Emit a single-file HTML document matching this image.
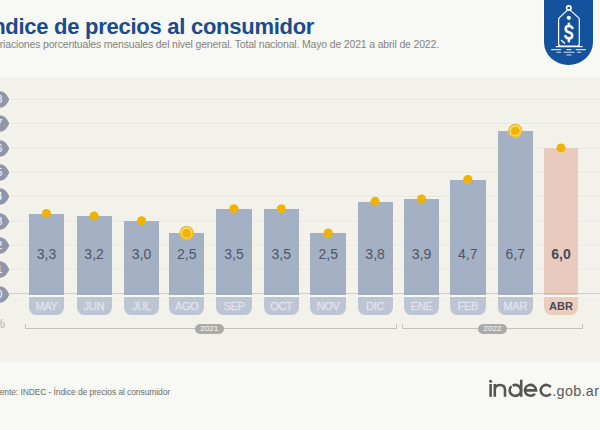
<!DOCTYPE html>
<html><head><meta charset="utf-8"><style>
*{margin:0;padding:0;box-sizing:border-box}
html,body{width:600px;height:430px;overflow:hidden}
body{position:relative;background:#f8f8f4;font-family:"Liberation Sans",sans-serif}
.a{position:absolute}
.band{left:0;top:77px;width:600px;height:285px;background:#f2f2eb}
.title{left:-13.7px;top:15.1px;font-size:22px;letter-spacing:-0.27px;font-weight:bold;color:#1a4b8c;white-space:nowrap;line-height:24px}
.sub{left:-12px;top:38.3px;font-size:10.5px;color:#848482;white-space:nowrap;letter-spacing:-0.17px;line-height:12px}
.grid{left:10px;width:590px;height:1px;background:#e7e7e0;box-shadow:0 1px 0 #f6f6f2}
.grid0{left:10px;width:590px;height:1.4px;background:rgba(160,160,150,.42)}
.wl{left:10px;width:590px;top:294.5px;height:2px;background:#f4f4ef}
.wlb{top:294.5px;height:2px;background:#f8f8f5}
.tab{left:-8px;width:18px;height:17px}
.bar{background:#a4b1c5}
.bar.hi{background:#e8cbbc}
.val{font-size:14px;color:#4e5568;text-align:center;line-height:16px}
.val.hi{font-weight:bold;color:#454a5e}
.lab{top:296.5px;height:18.9px;background:#bdc5d4;border-radius:0 0 7px 7px/0 0 8px 8px;text-align:center;font-size:11px;line-height:19px;color:#e0e4eb;letter-spacing:-0.3px;-webkit-text-stroke:0.3px #e0e4eb}
.lab.hi{background:#e9cdbd;color:#4a4a5c;font-weight:bold;letter-spacing:0;-webkit-text-stroke:0}
.brk{height:1px;background:#c2c2bc}
.tick{width:1px;height:4.5px;background:#c2c2bc}
.pill{height:10.5px;border-radius:6px;background:#aaaaa7;color:#fbfbfb;font-size:8px;line-height:10.5px;text-align:center}
.src{left:-10px;top:387px;font-size:8.5px;color:#6d6d6b;white-space:nowrap;letter-spacing:-0.1px}
.pct{left:-6.5px;top:315.5px;font-size:13px;color:#b0b0ad}
.gob{left:552.3px;top:383.4px;font-size:14.3px;line-height:16px;color:#5a5a5a;white-space:nowrap;letter-spacing:0.35px}
.badge{left:543.8px;top:-2px;width:49.6px;height:66.5px;background:#14529d;border-radius:0 0 24.8px 24.8px/0 0 23px 23px;box-shadow:0 0 1.5px 1px #fff}
</style></head>
<body>
<div class="a band"></div>
<div class="a title">Índice de precios al consumidor</div>
<div class="a sub">Variaciones porcentuales mensuales del nivel general. Total nacional. Mayo de 2021 a abril de 2022.</div>
<div class="a grid" style="top:269.20px"></div>
<div class="a grid" style="top:244.90px"></div>
<div class="a grid" style="top:220.60px"></div>
<div class="a grid" style="top:196.30px"></div>
<div class="a grid" style="top:172.00px"></div>
<div class="a grid" style="top:147.70px"></div>
<div class="a grid" style="top:123.40px"></div>
<div class="a grid" style="top:99.10px"></div>
<svg class="a tab" style="top:285.50px" viewBox="-8 -8.5 18 17"><path d="M0 -8.2 C4.6 -8.2 7.3 -4.2 9.4 0 C7.3 4.2 4.6 8.2 0 8.2 A8.2 8.2 0 0 1 0 -8.2Z" fill="#9296aa"/><text x="-0.7" y="3.8" font-size="10.5" fill="#fff" text-anchor="middle" font-family="Liberation Sans">0</text></svg>
<svg class="a tab" style="top:261.20px" viewBox="-8 -8.5 18 17"><path d="M0 -8.2 C4.6 -8.2 7.3 -4.2 9.4 0 C7.3 4.2 4.6 8.2 0 8.2 A8.2 8.2 0 0 1 0 -8.2Z" fill="#9296aa"/><text x="-0.7" y="3.8" font-size="10.5" fill="#fff" text-anchor="middle" font-family="Liberation Sans">1</text></svg>
<svg class="a tab" style="top:236.90px" viewBox="-8 -8.5 18 17"><path d="M0 -8.2 C4.6 -8.2 7.3 -4.2 9.4 0 C7.3 4.2 4.6 8.2 0 8.2 A8.2 8.2 0 0 1 0 -8.2Z" fill="#9296aa"/><text x="-0.7" y="3.8" font-size="10.5" fill="#fff" text-anchor="middle" font-family="Liberation Sans">2</text></svg>
<svg class="a tab" style="top:212.60px" viewBox="-8 -8.5 18 17"><path d="M0 -8.2 C4.6 -8.2 7.3 -4.2 9.4 0 C7.3 4.2 4.6 8.2 0 8.2 A8.2 8.2 0 0 1 0 -8.2Z" fill="#9296aa"/><text x="-0.7" y="3.8" font-size="10.5" fill="#fff" text-anchor="middle" font-family="Liberation Sans">3</text></svg>
<svg class="a tab" style="top:188.30px" viewBox="-8 -8.5 18 17"><path d="M0 -8.2 C4.6 -8.2 7.3 -4.2 9.4 0 C7.3 4.2 4.6 8.2 0 8.2 A8.2 8.2 0 0 1 0 -8.2Z" fill="#9296aa"/><text x="-0.7" y="3.8" font-size="10.5" fill="#fff" text-anchor="middle" font-family="Liberation Sans">4</text></svg>
<svg class="a tab" style="top:164.00px" viewBox="-8 -8.5 18 17"><path d="M0 -8.2 C4.6 -8.2 7.3 -4.2 9.4 0 C7.3 4.2 4.6 8.2 0 8.2 A8.2 8.2 0 0 1 0 -8.2Z" fill="#9296aa"/><text x="-0.7" y="3.8" font-size="10.5" fill="#fff" text-anchor="middle" font-family="Liberation Sans">5</text></svg>
<svg class="a tab" style="top:139.70px" viewBox="-8 -8.5 18 17"><path d="M0 -8.2 C4.6 -8.2 7.3 -4.2 9.4 0 C7.3 4.2 4.6 8.2 0 8.2 A8.2 8.2 0 0 1 0 -8.2Z" fill="#9296aa"/><text x="-0.7" y="3.8" font-size="10.5" fill="#fff" text-anchor="middle" font-family="Liberation Sans">6</text></svg>
<svg class="a tab" style="top:115.40px" viewBox="-8 -8.5 18 17"><path d="M0 -8.2 C4.6 -8.2 7.3 -4.2 9.4 0 C7.3 4.2 4.6 8.2 0 8.2 A8.2 8.2 0 0 1 0 -8.2Z" fill="#9296aa"/><text x="-0.7" y="3.8" font-size="10.5" fill="#fff" text-anchor="middle" font-family="Liberation Sans">7</text></svg>
<svg class="a tab" style="top:91.10px" viewBox="-8 -8.5 18 17"><path d="M0 -8.2 C4.6 -8.2 7.3 -4.2 9.4 0 C7.3 4.2 4.6 8.2 0 8.2 A8.2 8.2 0 0 1 0 -8.2Z" fill="#9296aa"/><text x="-0.7" y="3.8" font-size="10.5" fill="#fff" text-anchor="middle" font-family="Liberation Sans">8</text></svg>
<div class="a bar" style="left:29px;top:213.81px;width:35.0px;height:80.79px"></div>
<div class="a val" style="left:29px;top:246px;width:35.0px">3,3</div>
<div class="a lab" style="left:29px;width:35.0px">MAY</div>
<div class="a bar" style="left:76.6px;top:216.24px;width:35.0px;height:78.36px"></div>
<div class="a val" style="left:76.6px;top:246px;width:35.0px">3,2</div>
<div class="a lab" style="left:76.6px;width:35.0px">JUN</div>
<div class="a bar" style="left:124px;top:221.10px;width:35.0px;height:73.50px"></div>
<div class="a val" style="left:124px;top:246px;width:35.0px">3,0</div>
<div class="a lab" style="left:124px;width:35.0px">JUL</div>
<div class="a bar" style="left:169.2px;top:233.25px;width:35.0px;height:61.35px"></div>
<div class="a val" style="left:169.2px;top:246px;width:35.0px">2,5</div>
<div class="a lab" style="left:169.2px;width:35.0px">AGO</div>
<div class="a bar" style="left:216.4px;top:208.95px;width:35.2px;height:85.65px"></div>
<div class="a val" style="left:216.4px;top:246px;width:35.2px">3,5</div>
<div class="a lab" style="left:216.4px;width:35.2px">SEP</div>
<div class="a bar" style="left:263.6px;top:208.95px;width:35.4px;height:85.65px"></div>
<div class="a val" style="left:263.6px;top:246px;width:35.4px">3,5</div>
<div class="a lab" style="left:263.6px;width:35.4px">OCT</div>
<div class="a bar" style="left:310.4px;top:233.25px;width:35.6px;height:61.35px"></div>
<div class="a val" style="left:310.4px;top:246px;width:35.6px">2,5</div>
<div class="a lab" style="left:310.4px;width:35.6px">NOV</div>
<div class="a bar" style="left:357.6px;top:201.66px;width:35.0px;height:92.94px"></div>
<div class="a val" style="left:357.6px;top:246px;width:35.0px">3,8</div>
<div class="a lab" style="left:357.6px;width:35.0px">DIC</div>
<div class="a bar" style="left:404px;top:199.23px;width:35.0px;height:95.37px"></div>
<div class="a val" style="left:404px;top:246px;width:35.0px">3,9</div>
<div class="a lab" style="left:404px;width:35.0px">ENE</div>
<div class="a bar" style="left:450px;top:179.79px;width:35.6px;height:114.81px"></div>
<div class="a val" style="left:450px;top:246px;width:35.6px">4,7</div>
<div class="a lab" style="left:450px;width:35.6px">FEB</div>
<div class="a bar" style="left:497.6px;top:131.19px;width:35.4px;height:163.41px"></div>
<div class="a val" style="left:497.6px;top:246px;width:35.4px">6,7</div>
<div class="a lab" style="left:497.6px;width:35.4px">MAR</div>
<div class="a bar hi" style="left:543.6px;top:148.20px;width:34.8px;height:146.40px"></div>
<div class="a val hi" style="left:543.6px;top:246px;width:34.8px">6,0</div>
<div class="a lab hi" style="left:543.6px;width:34.8px">ABR</div>
<div class="a wl"></div>
<div class="a grid0" style="top:293.10px"></div>
<div class="a wlb" style="left:29px;width:35.0px"></div>
<div class="a wlb" style="left:76.6px;width:35.0px"></div>
<div class="a wlb" style="left:124px;width:35.0px"></div>
<div class="a wlb" style="left:169.2px;width:35.0px"></div>
<div class="a wlb" style="left:216.4px;width:35.2px"></div>
<div class="a wlb" style="left:263.6px;width:35.4px"></div>
<div class="a wlb" style="left:310.4px;width:35.6px"></div>
<div class="a wlb" style="left:357.6px;width:35.0px"></div>
<div class="a wlb" style="left:404px;width:35.0px"></div>
<div class="a wlb" style="left:450px;width:35.6px"></div>
<div class="a wlb" style="left:497.6px;width:35.4px"></div>
<div class="a wlb" style="left:543.6px;width:34.8px"></div>
<svg class="a" style="left:0;top:0" width="600" height="430"><circle cx="46.50" cy="213.51" r="4.5" fill="#f1b300"/><circle cx="94.10" cy="215.94" r="4.5" fill="#f1b300"/><circle cx="141.50" cy="220.80" r="4.5" fill="#f1b300"/><circle cx="186.70" cy="232.95" r="6.3" fill="rgba(252,232,160,.75)" stroke="#f2bf2a" stroke-width="1.8"/><circle cx="186.70" cy="232.95" r="4.5" fill="#f1b300"/><circle cx="234.00" cy="208.65" r="4.5" fill="#f1b300"/><circle cx="281.30" cy="208.65" r="4.5" fill="#f1b300"/><circle cx="328.20" cy="232.95" r="4.5" fill="#f1b300"/><circle cx="375.10" cy="201.36" r="4.5" fill="#f1b300"/><circle cx="421.50" cy="198.93" r="4.5" fill="#f1b300"/><circle cx="467.80" cy="179.49" r="4.5" fill="#f1b300"/><circle cx="515.30" cy="130.89" r="6.3" fill="rgba(252,232,160,.75)" stroke="#f2bf2a" stroke-width="1.8"/><circle cx="515.30" cy="130.89" r="4.5" fill="#f1b300"/><circle cx="561.00" cy="147.90" r="4.5" fill="#f1b300"/></svg>
<div class="a brk" style="left:24.5px;top:328px;width:372px"></div>
<div class="a tick" style="left:24.5px;top:324px"></div>
<div class="a tick" style="left:395.5px;top:324px"></div>
<div class="a pill" style="left:194.5px;top:323.5px;width:29.5px">2021</div>
<div class="a brk" style="left:401.5px;top:328px;width:181.5px"></div>
<div class="a tick" style="left:401.5px;top:324px"></div>
<div class="a tick" style="left:582px;top:324px"></div>
<div class="a pill" style="left:478.2px;top:323.5px;width:28.6px">2022</div>
<div class="a pct">%</div>
<div class="a src">Fuente: INDEC - Índice de precios al consumidor</div>
<svg class="a" style="left:0;top:0" width="600" height="430" viewBox="0 0 600 430">
<g fill="none" stroke="#555555" stroke-width="2.55">
<path d="M490.6 384 V396.8"/>
<path d="M494.8 384 V396.8 M494.8 389.8 C494.8 386.2 497 384.9 499.9 384.9 C502.9 384.9 505 386.6 505 389.8 V396.8"/>
<path d="M512.65 385.54 A5.65 5.45 0 1 1 511.52 386.30"/>
<path d="M521.2 379.7 V396.8"/>
<path d="M524.85 390.35 H536.15 A5.65 5.45 0 1 0 534.95 393.71"/>
<path d="M550.75 386.99 A5.65 5.45 0 1 0 550.75 393.71"/>
</g>
<circle cx="490.6" cy="381.2" r="1.5" fill="#555555"/>
</svg>
<div class="a gob">.gob.ar</div>
<div class="a badge"></div>
<svg class="a" style="left:543.8px;top:0" width="50" height="66" viewBox="543.8 0 50 66">
<g fill="none" stroke="#fff" stroke-width="1.2" stroke-linecap="round" stroke-linejoin="round">
<circle cx="568.6" cy="8" r="2.2" stroke-width="1.7"/>
<path d="M567 10.4 L559.2 17.6 Q558.4 18.5 558.4 19.6 L558.4 44 Q558.4 46 560.4 46 L577.1 46 Q579.1 46 579.1 44 L579.1 19.6 Q579.1 18.5 578.3 17.6 L570.2 10.4"/>
<path d="M556 46.6 H582"/>
<g stroke-opacity="0.8" stroke-width="1.1"><path d="M551.4 49.6 H560.5 M566.6 49.6 H570.8 M575.9 49.6 H585.2"/>
<path d="M556.8 52.2 H560.5 M563.8 52.2 H574 M577.3 52.2 H580.5"/>
<path d="M566.6 55 H570.8"/></g>
<path d="M561.3 40.4 L564.2 43.1" stroke-width="1.4"/>
</g>
<circle cx="568.6" cy="17.8" r="2.1" fill="#fff"/>
<g fill="none" stroke="#fff" stroke-width="2.6" stroke-linecap="round">
<path d="M572.2 28 C571.6 26.8 570.3 26 568.7 26 C566.8 26 565.5 27.2 565.5 28.9 C565.5 30.8 567 31.6 568.7 32.2 C570.6 32.8 572 33.6 572 35.4 C572 37.2 570.5 38.4 568.7 38.4 C566.9 38.4 565.6 37.4 565.2 36.2"/>
<path d="M568.7 23.8 V26 M568.7 38.4 V41.2"/>
</g>
</svg>
</body></html>
